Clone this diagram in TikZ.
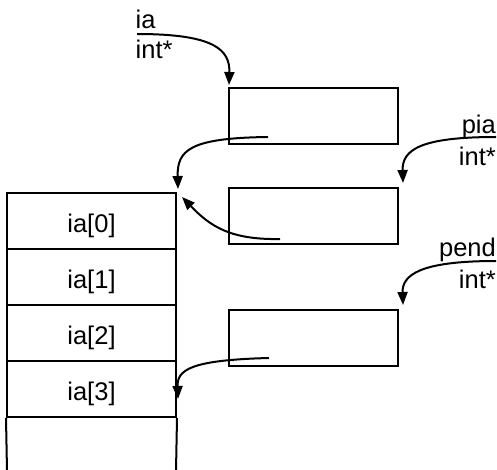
\documentclass[tikz,border=0pt]{standalone}
\usepackage{fontspec}
\setmainfont{Liberation Sans}
\usetikzlibrary{arrows.meta}
\begin{document}
\begin{tikzpicture}[x=1pt,y=-1pt,
  every node/.style={font=\fontsize{25.5}{30}\selectfont},
  cell/.style={draw, line width=2pt, minimum width=169pt, minimum height=56pt, inner sep=0pt, text height=22pt, text depth=0pt},
  membox/.style={draw, line width=2pt, minimum width=169pt, minimum height=56pt, inner sep=0pt},
  lbl/.style={inner sep=0pt},
  ptr/.style={line width=2pt, -{Triangle[length=13pt,width=10pt]}}]
\useasboundingbox (0,0) rectangle (497,470);
% array
\node[cell] (c0) at (91.5,221) {ia[0]};
\node[cell] (c1) at (91.5,277) {ia[1]};
\node[cell] (c2) at (91.5,333) {ia[2]};
\node[cell] (c3) at (91.5,389) {ia[3]};
\coordinate (c4l) at (7,471);
\coordinate (c4r) at (176,471);
\draw[line width=2pt] (c3.south west) -- (c4l);
\draw[line width=2pt] (c3.south east) -- (c4r);
% pointer boxes
\node[membox] (b1) at (313.5,116) {};
\node[membox] (b2) at (313.5,216) {};
\node[membox] (b3) at (313.5,338) {};
% labels
\node[lbl, anchor=base west] (ian) at (135.5,29) {ia};
\node[lbl, anchor=base west] (iat) at (135.5,59) {int*};
\node[lbl, anchor=base east] (pian) at (496,134) {pia};
\node[lbl, anchor=base east] (piat) at (496,166) {int*};
\node[lbl, anchor=base east] (pendn) at (496,256) {pend};
\node[lbl, anchor=base east] (pendt) at (496,288) {int*};
% start points
\coordinate (iaS) at (137,34);
\coordinate (piaS) at (496,137);
\coordinate (pendS) at (496,261);
\coordinate (b1S) at (268,137);
\coordinate (b2S) at (280,239);
\coordinate (b3S) at (269,358);
% arrows
\draw[ptr] (iaS) .. controls (215,34) and (230,50) .. ([xshift=1pt,yshift=2pt]b1.north west);
\draw[ptr] (b1S) .. controls (190,138) and (177,150) .. ([xshift=1pt,yshift=3pt]c0.north east);
\draw[ptr] (b2S) .. controls (230,240) and (210,226) .. ([xshift=5pt,yshift=-5pt]c0.north east);
\draw[ptr] (b3S) .. controls (190,360) and (177,370) .. ([xshift=1pt,yshift=-10pt]c3.east);
\draw[ptr] (piaS) .. controls (420,137) and (402,150) .. ([xshift=4pt,yshift=4pt]b2.north east);
\draw[ptr] (pendS) .. controls (420,261) and (402,275) .. ([xshift=4pt,yshift=4pt]b3.north east);
\end{tikzpicture}
\end{document}
